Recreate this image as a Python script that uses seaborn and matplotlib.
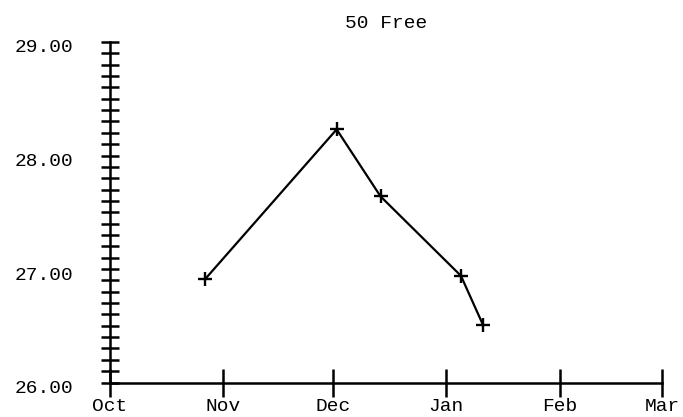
import matplotlib
matplotlib.use("Agg")
import matplotlib.pyplot as plt
import matplotlib.dates as mdates
import matplotlib.ticker as mticker
import matplotlib.transforms as mtransforms
import seaborn as sns
import pandas as pd

# Data
meet_dates = ["2012-10-27", "2012-12-02", "2012-12-14", "2013-01-05", "2013-01-11"]
times = [26.91, 28.23, 27.64, 26.94, 26.51]
title = "50 Free"
x_start, x_end = "2012-10-01", "2013-03-01"
y_min, y_max = 26.0, 29.0

df = pd.DataFrame({"date": pd.to_datetime(meet_dates), "time": times})

sns.set_theme(style="white")
plt.rcParams["font.family"] = ["Liberation Mono", "DejaVu Sans Mono"]

fig = plt.figure(figsize=(6.83, 4.17), dpi=100)
ax = fig.add_axes([110 / 683, (417 - 382.5) / 417, (662 - 110) / 683, (382.5 - 42) / 417])

sns.lineplot(data=df, x="date", y="time", ax=ax, color="black", linewidth=1.6,
             marker="+", markersize=9.5, markeredgewidth=1.7, markeredgecolor="black",
             sort=False, estimator=None)

ax.set_xlim(pd.Timestamp(x_start), pd.Timestamp(x_end))
ax.set_ylim(y_min, y_max)

ax.xaxis.set_major_locator(mdates.MonthLocator())
ax.xaxis.set_major_formatter(mdates.DateFormatter("%b"))
ax.xaxis.set_minor_locator(mticker.NullLocator())
ax.yaxis.set_major_locator(mticker.MultipleLocator(1.0))
ax.yaxis.set_minor_locator(mticker.MultipleLocator(0.1))
ax.yaxis.set_major_formatter(mticker.FormatStrFormatter("%.2f"))

for s in ["top", "right"]:
    ax.spines[s].set_visible(False)
for s in ["left", "bottom"]:
    ax.spines[s].set_linewidth(1.8)
    ax.spines[s].set_color("black")

ax.tick_params(axis="x", which="major", bottom=True, direction="inout", length=20, width=1.8,
               color="black", labelsize=14, pad=1.5, labelcolor="black")
ax.tick_params(axis="y", which="both", left=True, direction="inout", length=13, width=1.8,
               color="black", labelsize=14, pad=20, labelcolor="black")

offset = mtransforms.ScaledTranslation(0, -4 / 100, fig.dpi_scale_trans)
for lab in ax.get_yticklabels():
    lab.set_transform(lab.get_transform() + offset)

ax.set_xlabel("")
ax.set_ylabel("")
ax.set_title(title, fontsize=14, pad=10, color="black")
ax.grid(False)

fig.savefig("out.png", dpi=100)
